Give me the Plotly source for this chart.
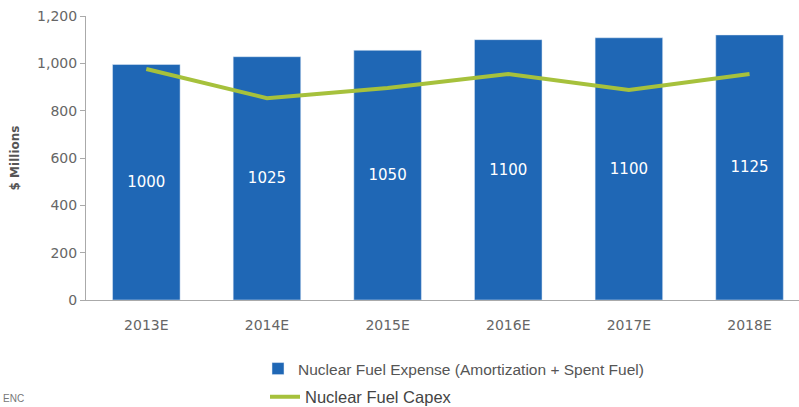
import plotly.graph_objects as go

# データ
YEARS = ['2013E', '2014E', '2015E', '2016E', '2017E', '2018E']
EXPENSE = [995, 1028, 1055, 1100, 1108, 1120]
EXPENSE_LABELS = ['1000', '1025', '1050', '1100', '1100', '1125']
CAPEX = [976, 853, 896, 955, 887, 955]

BAR_COLOR = '#1f67b5'
LINE_COLOR = '#a6c13c'
GREY = '#555555'
FONT = 'Liberation Sans'
WIDE = 'DejaVu Sans'

W, H = 799, 407
ML, MR, MT, MB = 86, 0, 16, 107
PW, PH = W - ML - MR, H - MT - MB


def px_x(p):
    return (p - ML) / PW


def px_y(p):
    return (H - MB - p) / PH


fig = go.Figure()
fig.add_trace(go.Bar(x=YEARS, y=EXPENSE, text=EXPENSE_LABELS, textposition='inside', insidetextanchor='middle',
                     textfont=dict(color='white', size=15, family=WIDE), marker_color=BAR_COLOR, width=0.56,
                     name='Nuclear Fuel Expense (Amortization + Spent Fuel)', legend='legend'))
fig.add_trace(go.Scatter(x=YEARS, y=CAPEX, mode='lines', line=dict(color=LINE_COLOR, width=4),
                         name='Nuclear Fuel Capex', legend='legend2'))

fig.update_layout(
    width=W, height=H, margin=dict(l=ML, r=MR, t=MT, b=MB, autoexpand=False),
    paper_bgcolor='white', plot_bgcolor='white',
    font=dict(family=FONT, color=GREY, size=13),
    xaxis=dict(range=[-0.5, 5.41], showline=True, linecolor='#aaaaaa', linewidth=1, automargin=False,
               ticks='outside', ticklen=12, tickcolor='rgba(0,0,0,0)',
               tickfont=dict(size=14, color='#666666', family=WIDE), showgrid=False),
    yaxis=dict(range=[0, 1200], dtick=200, tickformat=',', showline=True, linecolor='#aaaaaa', linewidth=1,
               ticks='outside', ticklen=5, tickcolor='#aaaaaa', showgrid=False, zeroline=False, automargin=False,
               tickfont=dict(size=14, color='#666666', family=WIDE),
               title=dict(text='<b>$ Millions</b>', font=dict(size=12, color=GREY, family=WIDE), standoff=14)),
    legend=dict(x=px_x(258), y=px_y(369), xanchor='left', yanchor='middle', bgcolor='rgba(0,0,0,0)',
                font=dict(size=15.5, color=GREY, family=FONT)),
    legend2=dict(x=px_x(265), y=px_y(397), xanchor='left', yanchor='middle', bgcolor='rgba(0,0,0,0)',
                 font=dict(size=16.5, color='#444444', family=FONT)),
    showlegend=True,
)

fig.add_annotation(text='ENC', xref='paper', yref='paper', x=px_x(1), y=px_y(406), xanchor='left', yanchor='bottom',
                   showarrow=False, font=dict(size=10, color='#777777'))

# body の余白を消す
fig.write_html('out.html', config=dict(displayModeBar=False),
               post_script="document.body.style.margin='0';document.body.style.overflow='hidden';")
